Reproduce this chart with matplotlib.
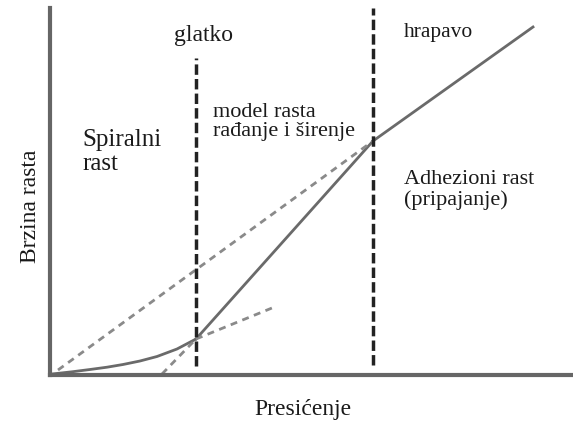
import matplotlib
matplotlib.use("Agg")
import matplotlib.pyplot as plt

plt.rcParams['font.family'] = ['Liberation Serif', 'DejaVu Serif']

# krivulja rasta (presićenje, brzina rasta) - proizvoljne jedinice
spiral_x = [0.0, 0.2, 0.38, 0.55, 0.71, 0.88, 1.05, 1.25, 1.44]
spiral_y = [0.0, 0.022, 0.045, 0.068, 0.095, 0.13, 0.175, 0.25, 0.35]
birth_x = [1.44, 3.21]
birth_y = [0.35, 2.33]
rough_x = [3.21, 4.81]
rough_y = [2.33, 3.47]

# pomoćne isprekidane linije
aux_a_x = [0.06, 3.21]
aux_a_y = [0.04, 2.33]
aux_b_x = [1.10, 1.44]
aux_b_y = [0.0, 0.35]
aux_c_x = [1.44, 2.20]
aux_c_y = [0.35, 0.66]

# granice režima
sigma1 = 1.44
sigma2 = 3.21
sigma1_y = [0.08, 3.16]
sigma2_y = [0.09, 3.66]

fig = plt.figure(figsize=(5.73, 4.25), dpi=100)
ax = fig.add_axes([50 / 573, 50 / 425, 523 / 573, 367 / 425])
ax.set_xlim(-0.02, 5.21)
ax.set_ylim(-0.01, 3.66)

gray = '#6a6a6a'
dgray = '#8a8a8a'
ax.plot(spiral_x, spiral_y, color=gray, lw=2, solid_joinstyle='round')
ax.plot(birth_x, birth_y, color=gray, lw=2)
ax.plot(rough_x, rough_y, color=gray, lw=2)
for xs, ys in [(aux_a_x, aux_a_y), (aux_b_x, aux_b_y), (aux_c_x, aux_c_y)]:
    ax.plot(xs, ys, color=dgray, lw=2, dashes=(2.5, 2))

ax.plot([sigma1, sigma1], sigma1_y, color='#222222', lw=2.5, dashes=(3, 1.2))
ax.plot([sigma2, sigma2], sigma2_y, color='#222222', lw=2.5, dashes=(3, 1.2))

for s in ['top', 'right']:
    ax.spines[s].set_visible(False)
for s in ['left', 'bottom']:
    ax.spines[s].set_color('#666666')
    ax.spines[s].set_linewidth(3)
ax.set_xticks([])
ax.set_yticks([])

tc = '#1a1a1a'
ax.text(1.51, 3.38, 'glatko', fontsize=17, color=tc, ha='center', va='center')
ax.text(0.30, 2.22, 'Spiralni\nrast', fontsize=18, color=tc, ha='left', va='center',
        linespacing=1.1)
ax.text(1.61, 2.52, 'model rasta\nrađanje i širenje', fontsize=16, color=tc,
        ha='left', va='center', linespacing=1.05)
ax.text(3.52, 3.41, 'hrapavo', fontsize=15.5, color=tc, ha='left', va='center')
ax.text(3.52, 1.84, 'Adhezioni rast\n(pripajanje)', fontsize=16, color=tc,
        ha='left', va='center', linespacing=1.05)

fig.text(303 / 573, 1 - 410 / 425, 'Presićenje', fontsize=17, color=tc,
         ha='center', va='center')
fig.text(31 / 573, 1 - 206 / 425, 'Brzina rasta', fontsize=17, color=tc,
         ha='center', va='center', rotation=90)

fig.savefig('out.png', dpi=100)
